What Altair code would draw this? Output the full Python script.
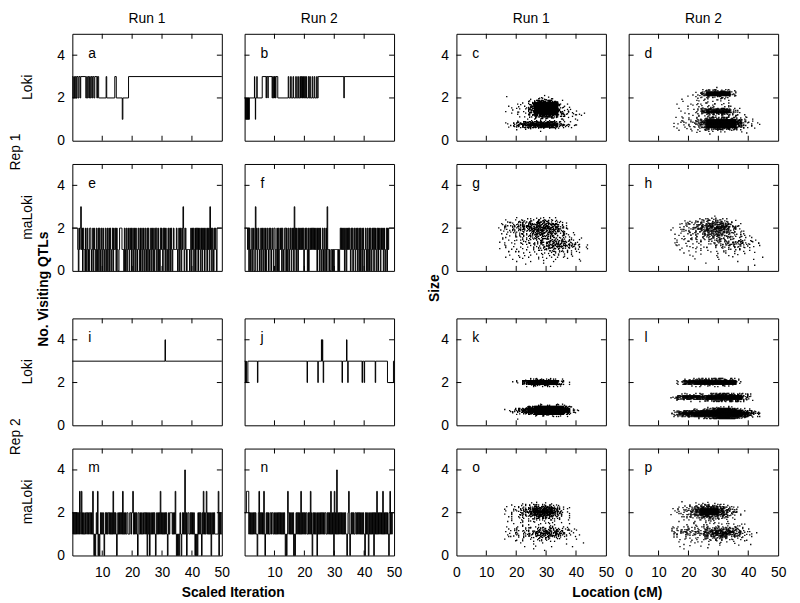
import altair as alt
import pandas as pd

FONT = "Liberation Sans"
W, H = 151, 108
TICK = 5

run_titles = ["Run 1", "Run 2"]
rep_titles = ["Rep 1", "Rep 2"]
method_titles = ["Loki", "maLoki", "Loki", "maLoki"]
letters = list("abcdefghijklmnop")
left_title = "No. Visiting QTLs"
mid_title = "Size"
bottom_titles = ["Scaled Iteration", "Location (cM)"]

trace_x_labels = [10, 20, 30, 40, 50]
scatter_x_labels = [0, 10, 20, 30, 40, 50]
y_labels = [0, 2, 4]
x_ticks = [10, 20, 30, 40]
y_ticks = [2, 4]

# ---------- trace panels with few changes: (start of step, value) ----------
a_steps = [(0, 3), (0.2, 2), (0.5, 3), (0.7, 2), (1.0, 3), (1.3, 2), (1.5, 3), (1.9, 2), (2.2, 3),
           (2.6, 2), (2.8, 3), (4.5, 2), (4.8, 3), (5.0, 2), (5.3, 3), (5.6, 2), (5.8, 3), (6.0, 2),
           (6.3, 3), (6.6, 2), (6.8, 3), (7.2, 2), (7.5, 3), (8.2, 2), (8.4, 3), (8.8, 2), (11.3, 3),
           (11.5, 2), (14.2, 3), (14.7, 2), (16.7, 1), (16.9, 2), (18.8, 3)]
b_steps = [(0, 2), (0.3, 1), (0.4, 2), (0.5, 1), (0.7, 2), (0.8, 1), (1.0, 2), (1.1, 1), (1.3, 2),
           (1.4, 1), (1.6, 2), (3.3, 3), (3.4, 2), (3.6, 1), (3.7, 2), (4.1, 3), (4.2, 2), (5.9, 3),
           (7.2, 2), (7.3, 3), (7.8, 2), (7.9, 3), (9.2, 2), (9.4, 3), (9.6, 2), (9.8, 3), (10.0, 2),
           (10.1, 3), (10.3, 2), (10.5, 3), (11.1, 2), (14.6, 3), (14.8, 2), (15.4, 3), (15.6, 2),
           (16.2, 3), (16.4, 2), (17.1, 3), (17.3, 2), (17.8, 3), (18.0, 2), (18.5, 3), (18.7, 2),
           (18.9, 3), (19.1, 2), (19.3, 3), (19.4, 2), (19.7, 3), (19.9, 2), (20.1, 3), (20.3, 2),
           (20.5, 3), (20.7, 2), (21.3, 3), (21.5, 2), (21.8, 3), (22.0, 2), (22.6, 3), (22.8, 2),
           (23.3, 3), (23.5, 2), (24.1, 3), (24.3, 2), (24.6, 3), (33.2, 2), (33.35, 3)]
i_steps = [(0, 3), (31.0, 4), (31.15, 3)]
j_steps = [(0, 3), (0.3, 2), (0.5, 3), (0.6, 2), (1.1, 3), (4.3, 2), (4.45, 3), (20.9, 2), (21.05, 3),
           (24.5, 2), (24.65, 3), (25.7, 4), (25.85, 3), (26.0, 4), (26.15, 3), (26.3, 2), (26.45, 3),
           (32.6, 2), (32.75, 3), (34.1, 4), (34.25, 3), (34.5, 2), (34.65, 3), (39.3, 2), (39.45, 3),
           (40.0, 2), (40.15, 3), (43.7, 2), (43.85, 3), (47.8, 2), (49.8, 3)]

# ---------- dense trace panels: one digit per 0.2 scaled-iteration step ----------
TRACE_STEP = 0.2
e_trace = "".join([
    "2222222221", "0212312021", "1020120102", "2101202110", "2012021021",
    "0210120120", "1202101202", "1120210012", "2221110201", "2012102120",
    "1201202101", "2102012012", "0120120210", "1202102012", "2012010212",
    "1021202101", "2012021012", "1111210120", "2102132012", "1011110120",
    "2120120212", "0212012021", "2012102120", "3120210212", "1022222222"])
f_trace = "".join([
    "2222212021", "0120120031", "2012101202", "1021020121", "0212012102",
    "2101202012", "1202101220", "2012012102", "1203120210", "2121212120",
    "1212102012", "1212121212", "1021202101", "2012012031", "1010011010",
    "1111110101", "2121212012", "0212121021", "2012102120", "1202012021",
    "0121020120", "2102120212", "0120212012", "1202101202", "1222222222"])
m_trace = "".join([
    "2121212121", "2132131212", "1122121221", "2121310101", "2130101212",
    "1210121212", "2121212131", "2121012121", "2121312121", "1221112212",
    "2312121210", "2211212112", "2121202120", "1212121210", "1212121312",
    "1212121210", "1212222121", "2131010101", "2101212141", "2012211212",
    "1212101010", "2121210213", "1212312121", "2102121211", "1111302121"])
n_trace = "".join([
    "2223333121", "2121212121", "1012312121", "2131012121", "2112212211",
    "2121212121", "2121212101", "0132121212", "1201012121", "2121312121",
    "2122112121", "3120121212", "1021212121", "2121221121", "2121312120",
    "3121412121", "2121212121", "1012310121", "2121122121", "2121212121",
    "1021212012", "1212120212", "1312121212", "1312121212", "1013121222"])

# ---------- scatter panels: point density per cell (digit 0-9) ----------
# columns: 2 cM wide from 12 to 46 cM; rows: 0.1 Size high, from 2.5 (top) down to 0.0
GRID_X0, GRID_DX, GRID_YTOP, GRID_DY = 12.0, 2.0, 2.5, 0.1
LEVEL_COUNT = [0, 1, 2, 3, 5, 7, 9, 12, 16, 24]
SUB_X, SUB_Y = 6, 4

c_grid = [
    "00000000000000000", "00000000000000000", "00000000000000000", "00000000000000000",
    "00000000100000000", "00100000110000000", "00000012321000000", "00000037775100000",
    "00001149999210000", "00101159999310000", "00012169999310000", "00011179999421000",
    "00102169999431100", "00011158999532210", "00001137886321100", "00000113443211000",
    "00001011211100100", "00124677887311000", "00136899999642100", "00124677887321000",
    "00001121111100000", "00000000100000000", "00000000000000000", "00000000000000000",
    "00000000000000000", "00000000000000000"]
d_grid = [
    "00000000000000000", "00000000100000000", "00000024544100000", "00000159999300000",
    "00001269999400000", "00010124443100000", "00100111221000000", "00010211111000000",
    "00101121211000000", "00011111111100000", "00100123332110000", "00011268888310000",
    "00100279999420000", "00011125564211000", "00101212222211000", "01011235566532100",
    "00112469999972100", "01122479999983110", "00112469999973210", "01012369999962100",
    "00111235666431010", "00101111211110000", "00000101000001000", "00000000000000000",
    "00000000000000000", "00000000000000000"]
g_grid = [
    "00000000000000000", "00001111211000000", "00112234443100000", "01223455554210000",
    "01234566665310000", "01334567776410000", "01233567776420000", "01233456665410000",
    "01122345654321000", "00122345554321000", "01112234443321100", "01112233444432100",
    "01111223455543100", "00111223456654210", "00111122356654210", "01111112344432110",
    "00111112233321100", "00111111222211100", "00101111112211000", "00101011111111000",
    "00010101011010100", "00001010101000100", "00000100100000000", "00000000010000000",
    "00000000000000000", "00000000000000000"]
h_grid = [
    "00000000100000000", "00000112211000000", "00011234432100000", "00122345664210000",
    "00123456665310000", "01123457776410000", "01123457776410000", "00123456665321000",
    "01112345554321000", "00112234554321100", "01112233443321100", "00112223343332110",
    "01111122334443210", "01111112234443210", "00111111223332110", "00101111122221100",
    "00101011111211100", "00010101111101010", "00001010101010000", "00001000100100001",
    "00000100010000100", "00000000000010000", "00000010000000000", "00000000000000010",
    "00000000000000000", "00000000000000000"]
k_grid = [
    "00000000000000000", "00000000000000000", "00000000000000000", "00000000000000000",
    "00000134443100000", "00012899999510000", "00001799999510000", "00000134443100000",
    "00000000000000000", "00000000000000000", "00000000000000000", "00000000000000000",
    "00000000000000000", "00000000000000000", "00000000000000000", "00000000000000000",
    "00000002333210000", "00000279999962000", "00135899999993100", "00135899999993100",
    "00012479999962000", "00000002333210000", "00000000000000000", "00001000000000000",
    "00000000000000000", "00000000000000000"]
l_grid = [
    "00000000000000000", "00000000000000000", "00000000000000000", "00000000000000000",
    "00024566665420000", "00389999999920000", "00278999999910000", "00001223332100000",
    "00000000000000000", "00000000000000000", "00000000000000000", "00122234687654100",
    "02799989999995200", "02688879999994100", "00111124566653100", "00000000000000000",
    "00000000000000000", "00000001232100000", "00001235899852100", "02578899999997530",
    "03799999999999740", "02578999999998520", "00001235899853100", "00000000000000000",
    "00000000000000000", "00000000000000000"]
o_grid = [
    "00000000000000000", "00000111110000000", "00011234432100000", "00112357775210000",
    "00123468886310000", "00123579997410000", "00123468886410000", "00112357765310000",
    "00011235543210000", "00011122221110000", "00101111111100000", "00010111111010000",
    "00101112222110000", "00112233444321000", "00122345665431100", "00122346776531000",
    "00112345665421100", "00111223443211000", "00101112221110100", "00010111111000000",
    "00001010100010010", "00000101010001000", "00000010000000000", "00000000100000000",
    "00000000000000000", "00000000000000000"]
p_grid = [
    "00100000000000000", "00000111100000000", "00012344431000000", "00123577764210000",
    "01234799975310000", "01235799985421000", "01234699974310000", "00123577654210000",
    "00012345432100000", "00011122211100000", "00101111111000000", "00011111112111000",
    "01121222233321000", "02232334555431100", "03443446777642100", "02343456888652110",
    "01232345676542100", "01121234554321100", "00111122332211000", "00101111111101000",
    "00010101010100100", "00101010010010000", "00010001000000000", "00000000000000000",
    "00000000000000000", "00000000000000000"]

# ---------- builders ----------
XS = alt.Scale(domain=[0, 50], nice=False, zero=False)
YS = alt.Scale(domain=[0, 5], nice=False, zero=False)


def steps_df(pairs):
    xs = [p[0] for p in pairs] + [50]
    vs = [p[1] for p in pairs] + [pairs[-1][1]]
    return pd.DataFrame({"x": xs, "v": vs})


def trace_df(s):
    xs = [round(k * TRACE_STEP, 3) for k in range(len(s))] + [50]
    vs = [int(ch) for ch in s] + [int(s[-1])]
    return pd.DataFrame({"x": xs, "v": vs})


def mix(a):
    # integer hash used only to spread a cell's points over its sub-slots
    a &= 0xFFFFFFFF
    a = (a ^ 61) ^ (a >> 16)
    a = (a + (a << 3)) & 0xFFFFFFFF
    a ^= a >> 4
    a = (a * 0x27D4EB2D) & 0xFFFFFFFF
    a ^= a >> 15
    return a


def grid_df(rows, seed):
    nslot = SUB_X * SUB_Y
    xs, ys = [], []
    for ri, row in enumerate(rows):
        y0 = GRID_YTOP - ri * GRID_DY
        for ix, ch in enumerate(row):
            n = LEVEL_COUNT[int(ch)]
            used = set()
            key = (seed * 1000 + ri * 40 + ix) * 64
            for m in range(n):
                s = mix(key + m) % nslot
                while s in used:
                    s = (s + 7) % nslot
                used.add(s)
                sx, sy = s % SUB_X, s // SUB_X
                xs.append(GRID_X0 + ix * GRID_DX + (sx + 0.5) * GRID_DX / SUB_X)
                ys.append(y0 + (sy + 0.5) * GRID_DY / SUB_Y)
    return pd.DataFrame({"x": xs, "v": ys})


def x_axis(values):
    return alt.Axis(values=values, ticks=False, tickSize=0, domain=False, grid=False,
                    labelFontSize=14, labelPadding=10, labelFlush=False, labelOverlap=False,
                    labelColor="black", title=None, format="d")


def y_axis():
    return alt.Axis(values=y_labels, ticks=False, tickSize=0, domain=False, grid=False,
                    labelFontSize=14, labelPadding=8, labelFlush=False, labelOverlap=False,
                    labelColor="black", title=None, format="d")


def tick_layers(xa, ya):
    xt = alt.Chart(pd.DataFrame({"t": x_ticks})).mark_rule(color="black", strokeWidth=1)
    yt = alt.Chart(pd.DataFrame({"t": y_ticks})).mark_rule(color="black", strokeWidth=1)
    return [
        xt.encode(x=alt.X("t:Q", scale=XS, axis=xa), y=alt.value(H), y2=alt.value(H - TICK)),
        xt.encode(x=alt.X("t:Q", scale=XS, axis=xa), y=alt.value(0), y2=alt.value(TICK)),
        yt.encode(y=alt.Y("t:Q", scale=YS, axis=ya), x=alt.value(0), x2=alt.value(TICK)),
        yt.encode(y=alt.Y("t:Q", scale=YS, axis=ya), x=alt.value(W), x2=alt.value(W - TICK)),
    ]


def text_layer(label, x, y, angle=0, bold=False, align="center"):
    return alt.Chart(pd.DataFrame({"label": [label]})).mark_text(
        font=FONT, fontSize=14, fontWeight="bold" if bold else "normal", angle=angle,
        align=align, baseline="middle", color="black").encode(
        x=alt.value(x), y=alt.value(y), text="label:N")


def panel(df, kind, letter, show_x, show_y, texts):
    xlab = trace_x_labels if kind == "trace" else scatter_x_labels
    xa = x_axis(xlab) if show_x else None
    ya = y_axis() if show_y else None
    enc = dict(
        x=alt.X("x:Q", scale=XS, axis=xa),
        y=alt.Y("v:Q", scale=YS, axis=ya),
    )
    if kind == "trace":
        data = alt.Chart(df).mark_line(interpolate="step-after", color="black",
                                       strokeWidth=1).encode(**enc)
    else:
        data = alt.Chart(df).mark_square(size=1.8, filled=True, color="black",
                                         opacity=1).encode(**enc)
    layers = [data] + tick_layers(xa, ya) + [text_layer(letter, 16, 20, align="left")] + texts
    return alt.layer(*layers).properties(width=W, height=H)


def spacer(w, h):
    return alt.Chart(pd.DataFrame({"s": [0]})).mark_point(opacity=0).encode(
        x=alt.value(0), y=alt.value(0)).properties(
        width=w, height=h, view=alt.ViewBackground(stroke=None))


RUN_Y = -15
pa = panel(steps_df(a_steps), "trace", "a", False, True, [
    text_layer(run_titles[0], W / 2, RUN_Y),
    text_layer(method_titles[0], -45, H / 2, angle=270),
    text_layer(rep_titles[0], -57, 119.5, angle=270)])
pb = panel(steps_df(b_steps), "trace", "b", False, False, [text_layer(run_titles[1], W / 2, RUN_Y)])
pc = panel(grid_df(c_grid, 1), "scatter", "c", False, True, [text_layer(run_titles[0], W / 2, RUN_Y)])
pd_ = panel(grid_df(d_grid, 2), "scatter", "d", False, False, [text_layer(run_titles[1], W / 2, RUN_Y)])

pe = panel(trace_df(e_trace), "trace", "e", False, True, [
    text_layer(method_titles[1], -45, H / 2, angle=270),
    text_layer(left_title, -29, 126.5, angle=270, bold=True)])
pf = panel(trace_df(f_trace), "trace", "f", False, False, [])
pg = panel(grid_df(g_grid, 3), "scatter", "g", False, True, [
    text_layer(mid_title, -22, 125.5, angle=270, bold=True)])
ph = panel(grid_df(h_grid, 4), "scatter", "h", False, False, [])

pi = panel(steps_df(i_steps), "trace", "i", False, True, [
    text_layer(method_titles[2], -45, H / 2, angle=270),
    text_layer(rep_titles[1], -57, 119.5, angle=270)])
pj = panel(steps_df(j_steps), "trace", "j", False, False, [])
pk = panel(grid_df(k_grid, 5), "scatter", "k", False, True, [])
pl = panel(grid_df(l_grid, 6), "scatter", "l", False, False, [])

pm = panel(trace_df(m_trace), "trace", "m", True, True, [
    text_layer(method_titles[3], -45, H / 2, angle=270),
    text_layer(bottom_titles[0], 162.5, 146, bold=True)])
pn = panel(trace_df(n_trace), "trace", "n", True, False, [])
po = panel(grid_df(o_grid, 7), "scatter", "o", True, True, [
    text_layer(bottom_titles[1], 162.5, 146, bold=True)])
pp = panel(grid_df(p_grid, 8), "scatter", "p", True, False, [])

SPW, SPH = 16.5, 1
items = [
    pa, pb, spacer(SPW, 1), pc, pd_,
    pe, pf, spacer(SPW, 1), pg, ph,
    spacer(1, SPH), spacer(1, SPH), spacer(1, SPH), spacer(1, SPH), spacer(1, SPH),
    pi, pj, spacer(SPW, 1), pk, pl,
    pm, pn, spacer(SPW, 1), po, pp,
]

chart = alt.concat(*items, columns=5, spacing={"row": 23.5, "column": 23},
                   bounds="flush", align="each").properties(
    padding={"left": 0, "top": 0, "right": 5, "bottom": 5}
).configure(font=FONT).configure_view(stroke="black", strokeWidth=1)

chart.save("out.html", embed_options={"renderer": "svg", "actions": False})
